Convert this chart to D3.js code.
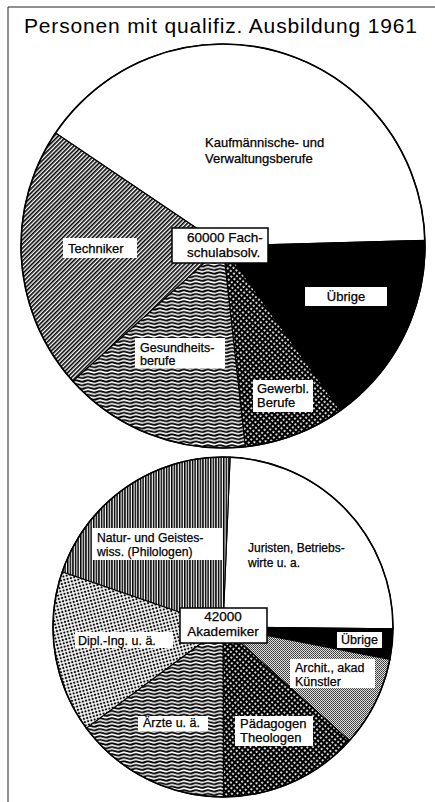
<!DOCTYPE html>
<html>
<head>
<meta charset="utf-8">
<script src="https://cdn.jsdelivr.net/npm/d3@7"></script>
<style>
  html, body { margin: 0; padding: 0; background: #fff; }
  svg { display: block; }
  text { font-family: "Liberation Sans", Arial, Helvetica, sans-serif; fill: #000; }
</style>
</head>
<body>
<svg id="chart" width="435" height="802"></svg>
<script>
// ---------- DATA ----------
const title = "Personen mit qualifiz. Ausbildung 1961";

// Upper pie: 60000 Fachschulabsolventen (shares in %)
const topCategories = ["Kaufmännische- und Verwaltungsberufe", "Übrige", "Gewerbl. Berufe", "Gesundheitsberufe", "Techniker"];
const topValues = [40.1, 15.6, 8.1, 15.1, 21.1];
const topCenterLabel = ["60000 Fach-", "schulabsolv."];

// Lower pie: 42000 Akademiker (shares in %)
const bottomCategories = ["Juristen, Betriebswirte u. a.", "Übrige", "Archit., akad Künstler", "Pädagogen Theologen", "Ärzte u. ä.", "Dipl.-Ing. u. ä.", "Natur- und Geisteswiss. (Philologen)"];
const bottomValues = [24.5, 2.9, 8.6, 13.3, 14.9, 15.4, 20.4];
const bottomCenterLabel = ["42000", "Akademiker"];

// ---------- LAYOUT ----------
const svg = d3.select("#chart");
const deg = Math.PI / 180;

// patterns
const defs = svg.append("defs");
function pat(id, w, h, transform) {
  const p = defs.append("pattern").attr("id", id).attr("patternUnits", "userSpaceOnUse")
    .attr("width", w).attr("height", h);
  if (transform) p.attr("patternTransform", transform);
  return p;
}
// diagonal hatch
let p = pat("diag", 3, 3, "rotate(45)");
p.append("rect").attr("width", 3).attr("height", 3).attr("fill", "#fff");
p.append("rect").attr("width", 1.6).attr("height", 3).attr("fill", "#000");
// wavy
p = pat("wavy", 12, 3.6);
p.append("rect").attr("width", 12).attr("height", 3.6).attr("fill", "#fff");
p.append("path").attr("d", "M-6,1.8 Q-3,0.3 0,1.8 T6,1.8 T12,1.8 T18,1.8").attr("fill", "none").attr("stroke", "#000").attr("stroke-width", 1.8);
// crosshatch: black with white holes
p = pat("cross", 4, 4, "rotate(40)");
p.append("rect").attr("width", 4).attr("height", 4).attr("fill", "#000");
p.append("rect").attr("x", 1.2).attr("y", 1.2).attr("width", 1.8).attr("height", 1.8).attr("fill", "#fff");
// vertical lines
p = pat("vert", 2.6, 4);
p.append("rect").attr("width", 2.6).attr("height", 4).attr("fill", "#fff");
p.append("rect").attr("width", 1.5).attr("height", 4).attr("fill", "#000");
// dot grid
p = pat("dots", 3.4, 3.4, "rotate(-15)");
p.append("rect").attr("width", 3.4).attr("height", 3.4).attr("fill", "#fff");
p.append("rect").attr("x", 0.7).attr("y", 0.7).attr("width", 2).attr("height", 2).attr("fill", "#000");
// fine stipple (gray)
p = pat("stipple", 2, 2);
p.append("rect").attr("width", 2).attr("height", 2).attr("fill", "#e0e0e0");
p.append("rect").attr("width", 1).attr("height", 1).attr("fill", "#333");
p.append("rect").attr("x", 1).attr("y", 1).attr("width", 1).attr("height", 1).attr("fill", "#555");

// frame
svg.append("line").attr("x1", 8).attr("y1", 7).attr("x2", 435).attr("y2", 7).attr("stroke", "#222").attr("stroke-width", 1);
svg.append("line").attr("x1", 8).attr("y1", 7).attr("x2", 8).attr("y2", 802).attr("stroke", "#222").attr("stroke-width", 1);

// title
svg.append("text").attr("x", 24).attr("y", 33).attr("font-size", 21)
  .attr("textLength", 393).attr("lengthAdjust", "spacing").text(title);

function drawPie(cfg) {
  const g = svg.append("g").attr("transform", `translate(${cfg.cx},${cfg.cy})`);
  const pie = d3.pie().sort(null).value(d => d)
    .startAngle(cfg.start * deg).endAngle(cfg.start * deg + 2 * Math.PI);
  const arc = d3.arc().innerRadius(0).outerRadius(cfg.r);
  const arcs = pie(cfg.values);
  g.selectAll("path.slice").data(arcs).enter().append("path")
    .attr("class", "slice")
    .attr("d", arc)
    .attr("fill", (d, i) => cfg.fills[i])
    .attr("stroke", "#000").attr("stroke-width", 1.1).attr("stroke-linejoin", "round");
  g.append("circle").attr("r", cfg.r).attr("fill", "none").attr("stroke", "#000").attr("stroke-width", 1.6);

  // labels
  cfg.labels.forEach(L => {
    if (L.box) {
      g.append("rect").attr("x", L.box[0]).attr("y", L.box[1]).attr("width", L.box[2]).attr("height", L.box[3])
        .attr("fill", "#fff").attr("stroke", L.border ? "#000" : "none").attr("stroke-width", L.border ? 1.5 : 0);
    }
    const t = g.append("text").attr("font-size", L.fs || 13).attr("text-anchor", L.anchor || "start")
      .attr("stroke", "#000").attr("stroke-width", 0.25);
    L.lines.forEach((ln, k) => {
      t.append("tspan").attr("x", L.x).attr("y", L.y + k * (L.lh || 15)).text(ln);
    });
  });
}

drawPie({
  cx: 223, cy: 246, r: 202, start: -56,
  values: topValues,
  fills: ["#fff", "#000", "url(#cross)", "url(#wavy)", "url(#diag)"],
  labels: [
    { lines: ["Kaufmännische- und", "Verwaltungsberufe"], x: -18, y: -99, lh: 16 },
    { lines: [topCategories[1]], x: 123, y: 55, anchor: "middle", box: [82, 41, 82, 19] },
    { lines: ["Gewerbl.", "Berufe"], x: 34, y: 147, lh: 14, box: [30, 134, 60, 32] },
    { lines: ["Gesundheits-", "berufe"], x: -83, y: 106, lh: 13, fs: 12.5, box: [-88, 92, 90, 30] },
    { lines: [topCategories[4]], x: -155, y: 7, box: [-160, -8, 74, 20] },
    { lines: topCenterLabel, x: -36, y: -4, lh: 15, fs: 13.5, box: [-51, -18, 96, 35], border: true }
  ]
});

drawPie({
  cx: 223, cy: 627, r: 170, start: 2.4,
  values: bottomValues,
  fills: ["#fff", "#000", "url(#stipple)", "url(#cross)", "url(#wavy)", "url(#dots)", "url(#vert)"],
  labels: [
    { lines: ["Juristen, Betriebs-", "wirte u. a."], x: 25, y: -75, lh: 15, fs: 12 },
    { lines: [bottomCategories[1]], x: 136.5, y: 17, anchor: "middle", fs: 12.5, box: [114, 5, 45, 16] },
    { lines: ["Archit., akad", "Künstler"], x: 72, y: 45, lh: 13.5, fs: 12.5, box: [67, 32, 85, 29] },
    { lines: ["Pädagogen", "Theologen"], x: 17, y: 101, lh: 14, fs: 13, box: [12, 89, 78, 30] },
    { lines: [bottomCategories[4]], x: -80, y: 100, fs: 12.5, box: [-85, 89, 70, 15] },
    { lines: [bottomCategories[5]], x: -145, y: 18, fs: 12.5, box: [-148, 5, 98, 16] },
    { lines: ["Natur- und Geistes-", "wiss. (Philologen)"], x: -126, y: -85, lh: 13.5, fs: 12.2, box: [-131, -99, 130, 32] },
    { lines: bottomCenterLabel, x: 0, y: -6, lh: 15, fs: 13.5, anchor: "middle", box: [-43, -19, 87, 35], border: true }
  ]
});
</script>
</body>
</html>
